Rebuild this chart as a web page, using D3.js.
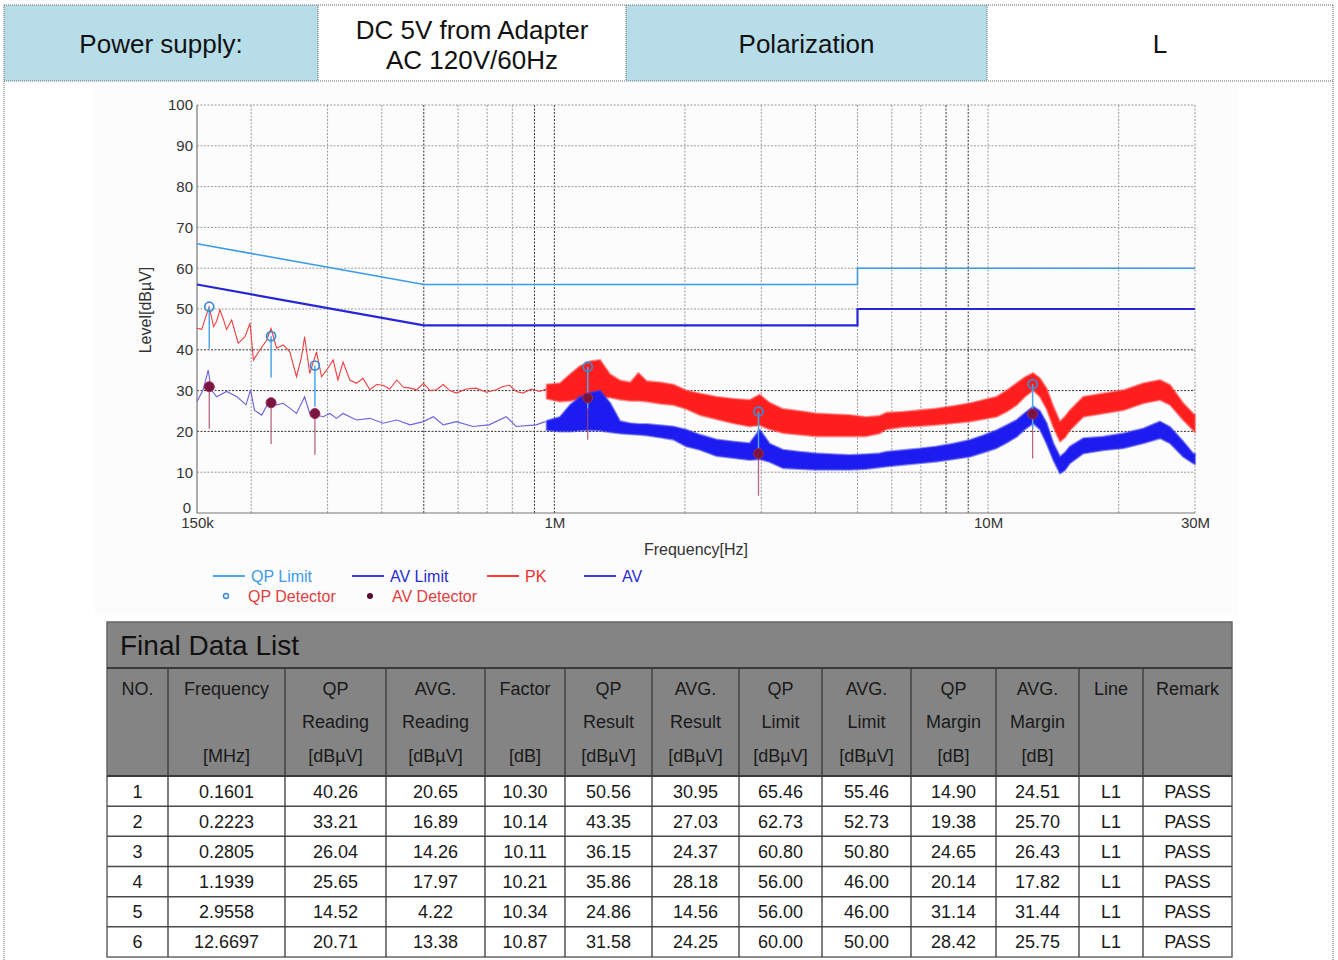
<!DOCTYPE html>
<html>
<head>
<meta charset="utf-8">
<title>Conducted Emission - L</title>
<script src="https://cdn.jsdelivr.net/npm/d3@7/dist/d3.min.js"></script>
<style>
html, body { margin: 0; background: #fff; }
svg { display: block; font-family: Arial, "Liberation Sans", sans-serif; }
</style>
</head>
<body>
<svg id="page" width="1338" height="960"></svg>
<script>
var headerCells = [["Power supply:"], ["DC 5V from Adapter", "AC 120V/60Hz"], ["Polarization"], ["L"]];

var yTicks = [0, 10, 20, 30, 40, 50, 60, 70, 80, 90, 100];
var xTickFreqs = [0.15, 1, 10, 30];          // MHz
var xTickLabels = ["150k", "1M", "10M", "30M"];

// limits [MHz, dBuV]
var qpLimit = [[0.15, 66], [0.5, 56], [5, 56], [5, 60], [30, 60]];
var avLimit = [[0.15, 56], [0.5, 46], [5, 46], [5, 50], [30, 50]];

// PK trace, low band (thin line)
var pkLow = [[0.150,45.3],[0.1538,45.0],[0.1565,47.5],[0.1600,50.5],[0.1638,45.7],[0.1665,47.0],[0.1694,49.8],
  [0.1725,47.5],[0.1755,45.0],[0.1803,47.3],[0.1867,41.6],[0.1935,43.2],[0.1988,46.5],[0.2024,37.5],[0.2096,40.0],
  [0.2172,42.4],[0.2222,45.2],[0.2289,40.4],[0.2370,41.2],[0.2455,39.5],[0.2544,33.4],[0.2610,38.0],[0.2656,43.2],
  [0.2729,34.2],[0.2829,39.5],[0.2906,33.4],[0.2985,35.0],[0.3090,37.5],[0.3170,32.6],[0.3257,37.0],[0.3376,32.6],
  [0.3498,31.8],[0.3622,33.0],[0.3754,30.2],[0.3890,31.5],[0.4027,31.3],[0.4172,30.4],[0.4333,32.6],[0.4490,30.8],
  [0.4650,30.6],[0.4818,30.2],[0.4990,31.8],[0.5168,30.0],[0.5350,30.2],[0.5545,31.5],[0.5740,30.0],[0.5943,29.4],
  [0.6261,30.4],[0.6596,30.6],[0.6969,29.6],[0.7347,30.2],[0.7608,31.0],[0.7882,31.3],[0.8170,29.8],[0.8460,29.4],
  [0.8845,30.4],[0.9247,29.8],[0.9666,30.6]];

// PK trace, dense part [MHz, low, high]
var pkBand = [[0.960,28.0,31.5],[1.030,27.3,31.8],[1.087,27.5,34.0],[1.146,28.0,36.0],[1.209,28.0,37.2],[1.275,28.5,37.5],
  [1.344,28.3,34.0],[1.418,27.8,32.5],[1.496,27.5,32.0],[1.563,27.5,34.3],[1.634,27.3,32.3],[1.753,26.8,32.0],
  [1.880,26.5,31.5],[2.017,25.5,30.0],[2.164,24.0,29.3],[2.364,23.0,28.5],[2.582,22.0,28.0],[2.821,21.2,27.7],
  [2.975,21.5,29.0],[3.137,20.5,27.0],[3.365,19.6,25.5],[3.676,19.2,25.0],[4.017,18.8,24.4],[4.386,18.8,24.2],
  [4.792,18.8,24.0],[5.235,18.8,23.5],[5.618,19.5,23.8],[5.829,20.5,24.6],[6.369,21.1,24.8],[6.958,21.3,25.2],
  [7.602,21.6,25.6],[8.304,22.0,26.2],[9.072,22.4,26.9],[9.738,23.0,27.7],[10.46,23.6,28.5],[11.03,24.8,30.0],
  [11.64,26.5,31.8],[12.16,28.5,33.3],[12.71,30.1,34.3],[13.17,28.5,33.0],[13.65,25.5,30.5],[14.14,21.1,26.1],
  [14.65,17.5,22.4],[15.04,18.5,23.6],[15.45,20.3,25.2],[16.58,23.6,28.5],[18.44,24.4,29.3],[20.51,25.2,30.1],
  [22.81,26.9,31.8],[24.92,27.7,32.6],[26.28,26.5,31.4],[28.18,22.8,26.9],[29.71,20.3,24.4],[30.0,19.8,24.0]];

// AV trace, low band (thin line)
var avLow = [[0.150,27.3],[0.1550,30.2],[0.1592,35.0],[0.1618,30.2],[0.1665,28.5],[0.1755,29.8],[0.1855,28.5],
  [0.1946,26.5],[0.1993,30.2],[0.2035,25.2],[0.2115,24.0],[0.2208,27.7],[0.2289,26.5],[0.2370,26.9],[0.2455,25.7],
  [0.2544,24.4],[0.2656,28.5],[0.2729,24.4],[0.2829,24.0],[0.2931,23.6],[0.3037,24.4],[0.3146,23.2],[0.3257,24.4],
  [0.3498,22.8],[0.3754,23.2],[0.4027,22.0],[0.4333,22.8],[0.4650,21.6],[0.4990,22.4],[0.5263,23.6],[0.5545,21.6],
  [0.5943,22.4],[0.6490,21.2],[0.7068,21.6],[0.7747,23.6],[0.8170,21.2],[0.9077,21.6],[0.9532,22.4]];

// AV trace, dense part [MHz, low, high]
var avBand = [[0.960,20.3,22.6],[1.030,20.0,23.5],[1.087,20.0,26.5],[1.146,20.2,28.5],[1.209,20.3,29.5],[1.275,20.2,30.0],
  [1.344,19.8,27.0],[1.418,19.5,22.5],[1.496,19.3,22.0],[1.563,19.2,21.8],[1.634,19.0,21.8],[1.753,18.5,21.5],
  [1.880,18.0,21.2],[2.017,16.3,20.4],[2.164,15.5,19.2],[2.364,14.0,18.0],[2.582,13.5,17.5],[2.821,13.0,17.1],
  [2.975,13.2,20.4],[3.137,12.5,17.0],[3.365,11.0,15.5],[3.676,10.8,15.0],[4.017,10.6,14.6],[4.386,10.6,14.4],
  [4.792,10.6,14.2],[5.235,10.8,14.4],[5.618,11.2,14.6],[5.829,11.4,15.0],[6.369,11.8,15.4],[6.958,12.2,15.8],
  [7.602,12.6,16.3],[8.304,13.2,17.0],[9.072,13.8,17.9],[9.738,14.8,19.0],[10.46,15.9,20.3],[11.03,17.2,21.5],
  [11.64,18.7,22.8],[12.16,20.5,24.5],[12.71,22.0,26.1],[13.17,20.5,25.0],[13.65,17.0,22.0],[14.14,13.0,17.1],
  [14.65,9.7,13.8],[15.04,10.5,14.8],[15.45,12.2,16.3],[16.58,14.6,18.3],[18.44,15.4,18.7],[20.51,15.9,19.5],
  [22.81,17.1,20.7],[24.92,18.3,22.4],[26.28,17.1,21.1],[28.18,13.8,17.5],[29.71,12.2,14.6],[30.0,12.0,14.5]];

// final data list
var markerNo   = [1, 2, 3, 4, 5, 6];
var markerFreq = [0.1601, 0.2223, 0.2805, 1.1939, 2.9558, 12.6697];
var qpReading  = [40.26, 33.21, 26.04, 25.65, 14.52, 20.71];
var avgReading = [20.65, 16.89, 14.26, 17.97, 4.22, 13.38];
var factorDb   = [10.30, 10.14, 10.11, 10.21, 10.34, 10.87];
var qpResult   = [50.56, 43.35, 36.15, 35.86, 24.86, 31.58];
var avgResult  = [30.95, 27.03, 24.37, 28.18, 14.56, 24.25];
var qpLimitVal = [65.46, 62.73, 60.80, 56.00, 56.00, 60.00];
var avgLimitVal= [55.46, 52.73, 50.80, 46.00, 46.00, 50.00];
var qpMargin   = [14.90, 19.38, 24.65, 20.14, 31.14, 28.42];
var avgMargin  = [24.51, 25.70, 26.43, 17.82, 31.44, 25.75];
var lineId     = ["L1", "L1", "L1", "L1", "L1", "L1"];
var remark     = ["PASS", "PASS", "PASS", "PASS", "PASS", "PASS"];

var tableHead = [["NO.", "", ""], ["Frequency", "", "[MHz]"], ["QP", "Reading", "[dBµV]"], ["AVG.", "Reading", "[dBµV]"],
  ["Factor", "", "[dB]"], ["QP", "Result", "[dBµV]"], ["AVG.", "Result", "[dBµV]"], ["QP", "Limit", "[dBµV]"],
  ["AVG.", "Limit", "[dBµV]"], ["QP", "Margin", "[dB]"], ["AVG.", "Margin", "[dB]"], ["Line", "", ""], ["Remark", "", ""]];

var legendRow1 = ["QP Limit", "AV Limit", "PK", "AV"];
var legendRow2 = ["QP Detector", "AV Detector"];

// ---------- drawing ----------
var svg = d3.select("#page");
var dotted = "1,1";

// header row
var headEdges = [4, 318, 626, 987, 1333];
var headFill = ["#b7dde8", "#ffffff", "#b7dde8", "#ffffff"];
var head = svg.append("g");
headerCells.forEach(function (lines, i) {
  var x0 = headEdges[i], x1 = headEdges[i + 1];
  head.append("rect").attr("x", x0).attr("y", 5).attr("width", x1 - x0).attr("height", 76).attr("fill", headFill[i]);
  var t = head.append("text").attr("x", (x0 + x1) / 2).attr("text-anchor", "middle")
    .attr("font-size", 26).attr("fill", "#111");
  if (lines.length == 1) {
    t.attr("y", 53).text(lines[0]);
  } else {
    t.attr("y", 39).text(lines[0]);
    head.append("text").attr("x", (x0 + x1) / 2).attr("y", 69).attr("text-anchor", "middle")
      .attr("font-size", 26).attr("fill", "#111").text(lines[1]);
  }
});
head.selectAll("line.v").data(headEdges).enter().append("line")
  .attr("x1", d => d).attr("x2", d => d).attr("y1", 5).attr("y2", 81)
  .attr("stroke", "#666").attr("stroke-dasharray", dotted);
[5, 81].forEach(function (yy) {
  head.append("line").attr("x1", 4).attr("x2", 1333).attr("y1", yy).attr("y2", yy)
    .attr("stroke", "#666").attr("stroke-dasharray", dotted);
});
// body borders
[4, 1333].forEach(function (xx) {
  svg.append("line").attr("x1", xx).attr("x2", xx).attr("y1", 81).attr("y2", 960)
    .attr("stroke", "#666").attr("stroke-dasharray", dotted);
});

// chart picture background
svg.append("rect").attr("x", 95).attr("y", 85).attr("width", 1143).attr("height", 530).attr("fill", "#fcfcfc");

var x = d3.scaleLog().domain([0.15, 30]).range([197, 1195]);
var y = d3.scaleLinear().domain([0, 100]).range([513, 105]);
var chart = svg.append("g");

// grid
var darkV = [0.5, 0.9, 1, 8, 9];
var darkH = [20, 30, 40];
chart.selectAll("line.gv").data(x.ticks()).enter().append("line")
  .attr("x1", d => x(d)).attr("x2", d => x(d)).attr("y1", y(100)).attr("y2", y(0))
  .attr("stroke", d => darkV.some(v => Math.abs(v - d) < 1e-6) ? "#333" : "#9a9a9a")
  .attr("stroke-dasharray", "2,1.5");
chart.selectAll("line.gh").data(yTicks.filter(d => d > 0)).enter().append("line")
  .attr("x1", x(0.15)).attr("x2", x(30)).attr("y1", d => y(d)).attr("y2", d => y(d))
  .attr("stroke", d => darkH.indexOf(d) >= 0 ? "#333" : "#9a9a9a")
  .attr("stroke-dasharray", "2,1.5");
chart.append("path").attr("d", "M" + x(0.15) + "," + y(100) + "V" + y(0) + "H" + x(30))
  .attr("fill", "none").attr("stroke", "#777").attr("stroke-width", 1.2);

// axes
var yAxis = chart.append("g").attr("transform", "translate(" + x(0.15) + ",0)")
  .call(d3.axisLeft(y).tickValues(yTicks).tickSize(0).tickPadding(4));
var xAxis = chart.append("g").attr("transform", "translate(0," + y(0) + ")")
  .call(d3.axisBottom(x).tickValues(xTickFreqs).tickSize(0).tickPadding(4)
    .tickFormat((d, i) => xTickLabels[i]));
[yAxis, xAxis].forEach(function (a) {
  a.select(".domain").remove();
  a.selectAll("text").attr("font-size", 15).attr("fill", "#333").attr("font-family", "Arial, 'Liberation Sans', sans-serif");
});
// the "0" sits just above "150k", as in the report
yAxis.selectAll(".tick").filter(d => d === 0).select("text").attr("dy", "-0.05em").attr("x", -6);

chart.append("text").attr("transform", "translate(151,310) rotate(-90)").attr("text-anchor", "middle")
  .attr("font-size", 16).attr("fill", "#333").text("Level[dBµV]");
chart.append("text").attr("x", 696).attr("y", 555).attr("text-anchor", "middle")
  .attr("font-size", 16).attr("fill", "#333").text("Frequency[Hz]");

// limits
var line = d3.line().x(d => x(d[0])).y(d => y(d[1]));
chart.append("path").datum(qpLimit).attr("d", line).attr("fill", "none").attr("stroke", "#3d9be9").attr("stroke-width", 1.6);
chart.append("path").datum(avLimit).attr("d", line).attr("fill", "none").attr("stroke", "#2626d8").attr("stroke-width", 2.2);

// traces
var band = d3.area().x(d => x(d[0])).y0(d => y(d[1])).y1(d => y(d[2]));
chart.append("path").datum(pkLow).attr("d", line).attr("fill", "none").attr("stroke", "#f04040").attr("stroke-width", 1.1);
chart.append("path").datum(pkBand).attr("d", band).attr("fill", "#ff1e1e")
  .attr("stroke", "#ff4a4a").attr("stroke-width", 2.2).attr("stroke-opacity", 0.55).attr("stroke-linejoin", "round");
chart.append("path").datum(avLow).attr("d", line).attr("fill", "none").attr("stroke", "#6a62e0").attr("stroke-width", 1.1);
chart.append("path").datum(avBand).attr("d", band).attr("fill", "#1c1cf0")
  .attr("stroke", "#3a3af0").attr("stroke-width", 2.2).attr("stroke-opacity", 0.55).attr("stroke-linejoin", "round");

// detector sticks and markers
var det = chart.append("g");
markerFreq.forEach(function (f, i) {
  det.append("line").attr("x1", x(f)).attr("x2", x(f)).attr("y1", y(avgResult[i])).attr("y2", y(avgReading[i]))
    .attr("stroke", "#a8406a").attr("stroke-width", 1.3).attr("opacity", 0.8);
  det.append("line").attr("x1", x(f)).attr("x2", x(f)).attr("y1", y(qpResult[i])).attr("y2", y(qpReading[i]))
    .attr("stroke", "#49a6ea").attr("stroke-width", 1.5);
});
det.selectAll("circle.qp").data(markerFreq).enter().append("circle")
  .attr("cx", d => x(d)).attr("cy", (d, i) => y(qpResult[i])).attr("r", 4.5)
  .attr("fill", "none").attr("stroke", "#3a8ad6").attr("stroke-width", 1.7);
det.selectAll("circle.av").data(markerFreq).enter().append("circle")
  .attr("cx", d => x(d)).attr("cy", (d, i) => y(avgResult[i])).attr("r", 5)
  .attr("fill", "#7a1440").attr("stroke", "#9a2a5a").attr("stroke-width", 1);

// legend
var lg = chart.append("g").attr("font-size", 16);
var lgX = [213, 352, 487, 584];
var lgLine = ["#3d9be9", "#2626d8", "#ff2020", "#2626d8"];
var lgText = ["#3d9be9", "#2a2ad0", "#f03030", "#2a2ad0"];
legendRow1.forEach(function (name, i) {
  lg.append("line").attr("x1", lgX[i]).attr("x2", lgX[i] + 32).attr("y1", 576).attr("y2", 576)
    .attr("stroke", lgLine[i]).attr("stroke-width", 1.8);
  lg.append("text").attr("x", lgX[i] + 38).attr("y", 581.5).attr("fill", lgText[i]).text(name);
});
lg.append("circle").attr("cx", 226).attr("cy", 596).attr("r", 2.5).attr("fill", "none").attr("stroke", "#3a8ad6").attr("stroke-width", 1.4);
lg.append("circle").attr("cx", 370).attr("cy", 596).attr("r", 3).attr("fill", "#5a0a2a");
lg.append("text").attr("x", 248).attr("y", 601.5).attr("fill", "#e04040").text(legendRow2[0]);
lg.append("text").attr("x", 392).attr("y", 601.5).attr("fill", "#e04040").text(legendRow2[1]);

// ---------- final data list ----------
var colEdges = [107, 168, 285, 386, 485, 565, 652, 739, 822, 911, 996, 1079, 1143, 1232];
var tTop = 622, tHead = 668, tRows = 776, rowH = 30.17;
var tbl = svg.append("g").attr("font-size", 18).attr("fill", "#1a1a1a");
tbl.append("rect").attr("x", colEdges[0]).attr("y", tTop).attr("width", colEdges[13] - colEdges[0])
  .attr("height", tRows - tTop).attr("fill", "#848484");
tbl.append("text").attr("x", 120).attr("y", 655).attr("font-size", 28).attr("fill", "#111").text("Final Data List");

tableHead.forEach(function (lines, c) {
  var cx = (colEdges[c] + colEdges[c + 1]) / 2;
  lines.forEach(function (s, k) {
    if (s) tbl.append("text").attr("x", cx).attr("y", 694.5 + k * 33.5).attr("text-anchor", "middle")
      .attr("fill", "#1a1a1a").text(s);
  });
});

var rows = markerNo.map(function (n, i) {
  return [String(n), markerFreq[i].toFixed(4), qpReading[i].toFixed(2), avgReading[i].toFixed(2), factorDb[i].toFixed(2),
    qpResult[i].toFixed(2), avgResult[i].toFixed(2), qpLimitVal[i].toFixed(2), avgLimitVal[i].toFixed(2),
    qpMargin[i].toFixed(2), avgMargin[i].toFixed(2), lineId[i], remark[i]];
});
rows.forEach(function (r, i) {
  var yy = tRows + i * rowH;
  r.forEach(function (s, c) {
    tbl.append("text").attr("x", (colEdges[c] + colEdges[c + 1]) / 2).attr("y", yy + rowH / 2 + 6.5)
      .attr("text-anchor", "middle").attr("fill", "#1a1a1a").text(s);
  });
});

// table rules
var tBottom = tRows + rowH * rows.length;
var rules = tbl.append("g").attr("stroke", "#3a3a3a").attr("fill", "none");
rules.append("rect").attr("x", colEdges[0]).attr("y", tTop).attr("width", colEdges[13] - colEdges[0])
  .attr("height", tBottom - tTop).attr("stroke", "#666").attr("stroke-width", 1.5);
[tHead, tRows].forEach(function (yy) {
  rules.append("line").attr("x1", colEdges[0]).attr("x2", colEdges[13]).attr("y1", yy).attr("y2", yy).attr("stroke-width", 2);
});
d3.range(1, rows.length).forEach(function (i) {
  rules.append("line").attr("x1", colEdges[0]).attr("x2", colEdges[13])
    .attr("y1", tRows + i * rowH).attr("y2", tRows + i * rowH).attr("stroke-width", 1.5).attr("stroke", "#4a4a4a");
});
colEdges.slice(1, 13).forEach(function (cx) {
  rules.append("line").attr("x1", cx).attr("x2", cx).attr("y1", tHead).attr("y2", tBottom).attr("stroke-width", 1.3);
});
</script>
</body>
</html>
